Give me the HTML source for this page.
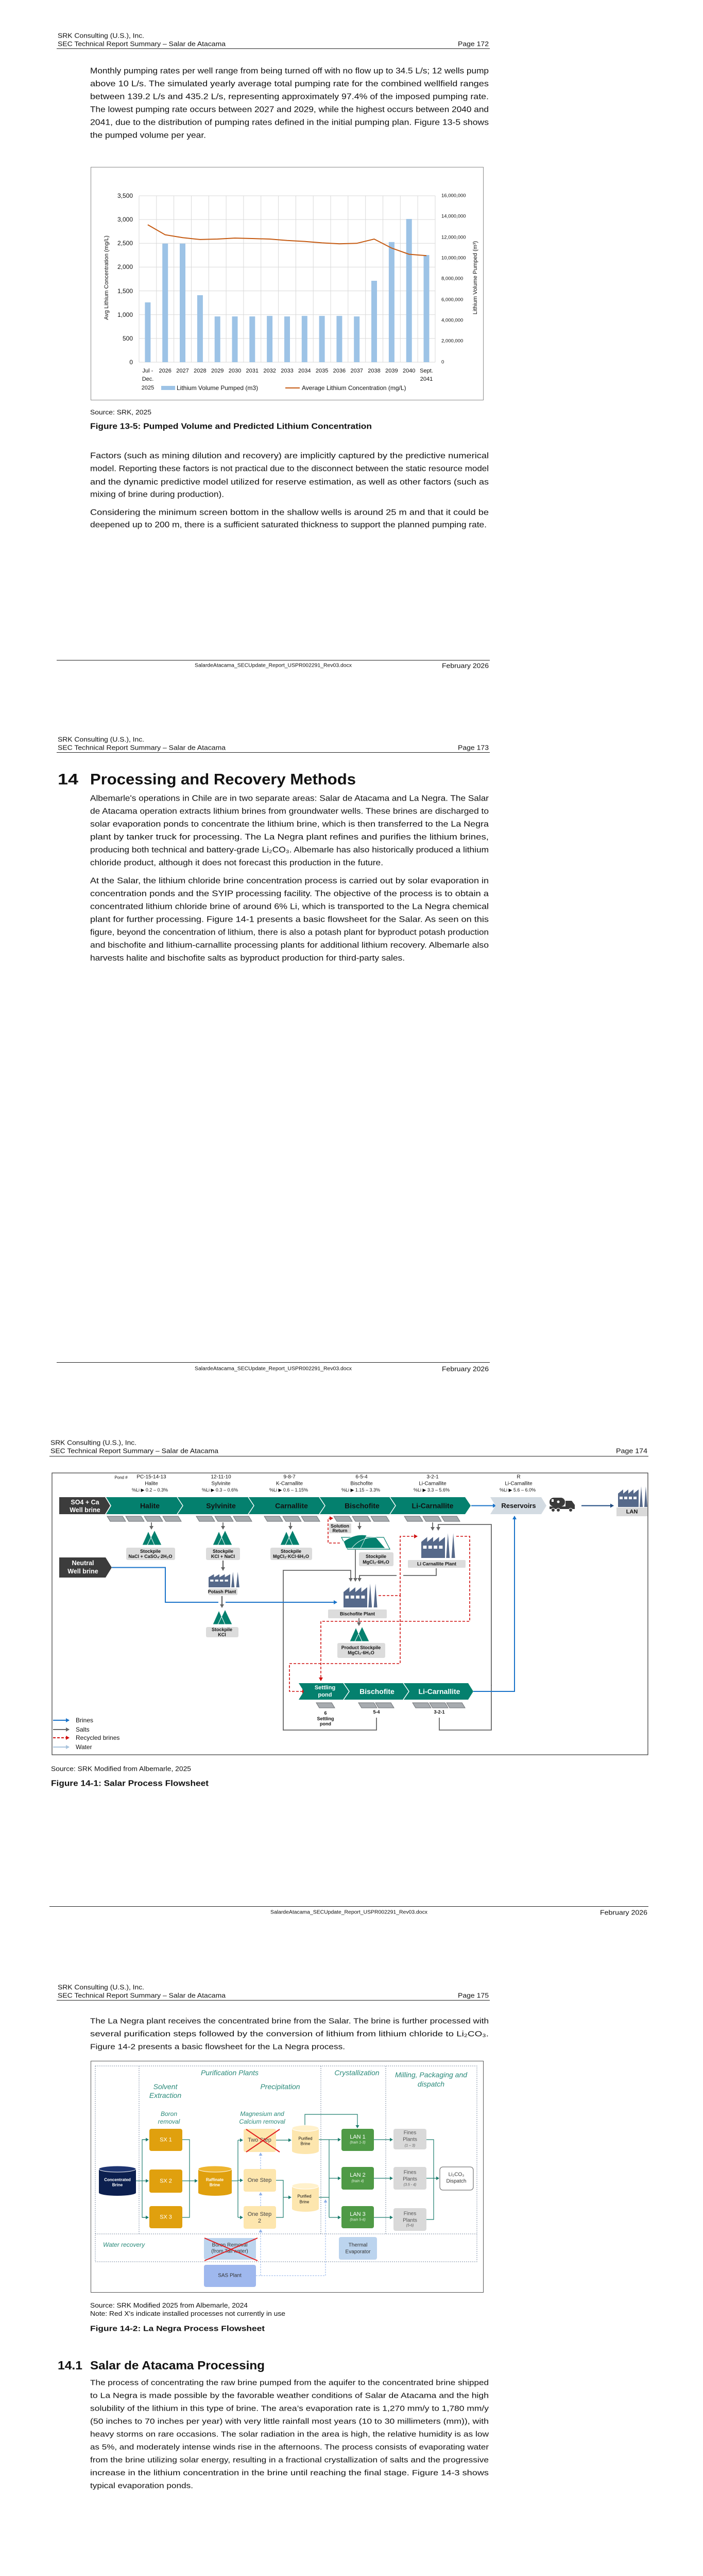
<!DOCTYPE html>
<html><head><meta charset="utf-8">
<style>
html,body{margin:0;padding:0;background:#fff;width:1365px;height:5150px;overflow:hidden;}
svg{display:block;}
text{font-family:"Liberation Sans Narrow","Liberation Sans",sans-serif;fill:#111;dominant-baseline:central;}
.r{font-family:"Liberation Sans",sans-serif;}
.b{font-weight:bold;}
.w{fill:#fff;font-weight:bold;font-family:"Liberation Sans",sans-serif;}
.s{font-family:"Liberation Sans",sans-serif;font-size:9px;fill:#333;font-weight:bold;}
.t{font-family:"Liberation Sans",sans-serif;font-style:italic;fill:#2a8a7a;font-size:14px;}
.ti{font-family:"Liberation Sans",sans-serif;font-style:italic;fill:#2a8a7a;font-size:12px;}
</style></head><body>
<svg width="1365" height="5150" viewBox="0 0 1365 5150" xmlns="http://www.w3.org/2000/svg">
<defs>
<marker id="ab" markerWidth="8" markerHeight="8" refX="6" refY="4" orient="auto" markerUnits="userSpaceOnUse"><path d="M0,0 L7,4 L0,8z" fill="#1a73c9"/></marker>
<marker id="ad" markerWidth="8" markerHeight="8" refX="6" refY="4" orient="auto" markerUnits="userSpaceOnUse"><path d="M0,0 L7,4 L0,8z" fill="#1f4a80"/></marker>
<marker id="ag" markerWidth="8" markerHeight="8" refX="6" refY="4" orient="auto" markerUnits="userSpaceOnUse"><path d="M0,0 L7,4 L0,8z" fill="#666"/></marker>
<marker id="ar" markerWidth="8" markerHeight="8" refX="6" refY="4" orient="auto" markerUnits="userSpaceOnUse"><path d="M0,0 L7,4 L0,8z" fill="#d01010"/></marker>
<marker id="al" markerWidth="8" markerHeight="8" refX="6" refY="4" orient="auto" markerUnits="userSpaceOnUse"><path d="M0,0 L7,4 L0,8z" fill="#a9c4dd"/></marker>
<marker id="at" markerWidth="7" markerHeight="7" refX="5" refY="3.5" orient="auto" markerUnits="userSpaceOnUse"><path d="M0,0 L6,3.5 L0,7z" fill="#1d7d6e"/></marker>
<marker id="au" markerWidth="7" markerHeight="7" refX="5" refY="3.5" orient="auto" markerUnits="userSpaceOnUse"><path d="M0,0 L6,3.5 L0,7z" fill="#8fb0e8"/></marker>
<g id="fac"><path d="M0,40 L0,14 L10,6 L10,14 L20,6 L20,14 L30,6 L30,14 L40,6 L40,40 Z M42,40 L45,0 L48,40 Z M51,40 L54,0 L57,40 Z" fill="#56698a"/><rect x="3" y="20" width="6" height="5" fill="#fff"/><rect x="12" y="20" width="6" height="5" fill="#fff"/><rect x="21" y="20" width="6" height="5" fill="#fff"/><rect x="30" y="20" width="6" height="5" fill="#fff"/></g>
<g id="mt"><path d="M-18,29 L-6,2 L6,29Z M-8,29 L6,0 L20,29Z" fill="#04806e" stroke="#fff" stroke-width="1"/></g>
<g id="pd"><path d="M0,0 L30,0 L36,10 L6,10Z" fill="#a7abaf" stroke="#6d7074" stroke-width="1"/></g>
</defs>

<!-- ================= PAGE 1 ================= -->
<text x="112" y="69" font-size="13" textLength="168" lengthAdjust="spacingAndGlyphs">SRK Consulting (U.S.), Inc.</text>
<text x="112" y="85" font-size="13" textLength="326" lengthAdjust="spacingAndGlyphs">SEC Technical Report Summary – Salar de Atacama</text>
<text x="889" y="85" font-size="13" textLength="60" lengthAdjust="spacingAndGlyphs">Page 172</text>
<line x1="110" y1="94.5" x2="951" y2="94.5" stroke="#222" stroke-width="1"/>
<g font-size="16">
<text x="175" y="138" textLength="774" lengthAdjust="spacingAndGlyphs">Monthly pumping rates per well range from being turned off with no flow up to 34.5 L/s; 12 wells pump</text>
<text x="175" y="163" textLength="774" lengthAdjust="spacingAndGlyphs">above 10 L/s. The simulated yearly average total pumping rate for the combined wellfield ranges</text>
<text x="175" y="188" textLength="774" lengthAdjust="spacingAndGlyphs">between 139.2 L/s and 435.2 L/s, representing approximately 97.4% of the imposed pumping rate.</text>
<text x="175" y="213" textLength="774" lengthAdjust="spacingAndGlyphs">The lowest pumping rate occurs between 2027 and 2029, while the highest occurs between 2040 and</text>
<text x="175" y="238" textLength="774" lengthAdjust="spacingAndGlyphs">2041, due to the distribution of pumping rates defined in the initial pumping plan. Figure 13-5 shows</text>
<text x="175" y="263" textLength="225" lengthAdjust="spacingAndGlyphs">the pumped volume per year.</text>
</g>
<!-- chart -->
<rect x="176.5" y="324.5" width="762" height="452" fill="#fff" stroke="#8a8a8a"/>
<g stroke="#d9d9d9" stroke-width="1">
<line x1="270" y1="380" x2="845" y2="380"/><line x1="270" y1="426.1" x2="845" y2="426.1"/><line x1="270" y1="472.3" x2="845" y2="472.3"/><line x1="270" y1="518.4" x2="845" y2="518.4"/><line x1="270" y1="564.6" x2="845" y2="564.6"/><line x1="270" y1="610.7" x2="845" y2="610.7"/><line x1="270" y1="656.9" x2="845" y2="656.9"/><line x1="270" y1="703" x2="845" y2="703"/>
<line x1="270" y1="380" x2="270" y2="703"/><line x1="303.8" y1="380" x2="303.8" y2="703"/><line x1="337.6" y1="380" x2="337.6" y2="703"/><line x1="371.5" y1="380" x2="371.5" y2="703"/><line x1="405.3" y1="380" x2="405.3" y2="703"/><line x1="439.1" y1="380" x2="439.1" y2="703"/><line x1="472.9" y1="380" x2="472.9" y2="703"/><line x1="506.7" y1="380" x2="506.7" y2="703"/><line x1="540.6" y1="380" x2="540.6" y2="703"/><line x1="574.4" y1="380" x2="574.4" y2="703"/><line x1="608.2" y1="380" x2="608.2" y2="703"/><line x1="642" y1="380" x2="642" y2="703"/><line x1="675.8" y1="380" x2="675.8" y2="703"/><line x1="709.7" y1="380" x2="709.7" y2="703"/><line x1="743.5" y1="380" x2="743.5" y2="703"/><line x1="777.3" y1="380" x2="777.3" y2="703"/><line x1="811.1" y1="380" x2="811.1" y2="703"/><line x1="845" y1="380" x2="845" y2="703"/>
</g>
<g fill="#9dc3e6">
<rect x="281.4" y="586.9" width="11" height="116.1"/><rect x="315.2" y="472.8" width="11" height="230.2"/><rect x="349" y="472.8" width="11" height="230.2"/><rect x="382.9" y="573" width="11" height="130"/><rect x="416.7" y="614.2" width="11" height="88.8"/><rect x="450.5" y="614.2" width="11" height="88.8"/><rect x="484.3" y="614.2" width="11" height="88.8"/><rect x="518.1" y="613.2" width="11" height="89.8"/><rect x="552" y="614.2" width="11" height="88.8"/><rect x="585.8" y="613.2" width="11" height="89.8"/><rect x="619.6" y="613.2" width="11" height="89.8"/><rect x="653.4" y="613.2" width="11" height="89.8"/><rect x="687.2" y="614.2" width="11" height="88.8"/><rect x="721" y="545" width="11" height="158"/><rect x="754.9" y="469.8" width="11" height="233.2"/><rect x="788.7" y="425" width="11" height="278"/><rect x="822.5" y="495" width="11" height="208"/>
</g>
<polyline fill="none" stroke="#c55a11" stroke-width="2" points="286.9,436.3 320.7,455.7 354.5,461.2 388.4,464.9 422.2,464 456,462.1 489.8,463 523.6,464 557.5,466.7 591.3,468.6 625.1,471.4 658.9,473.2 692.7,472.3 726.5,464 760.4,481.5 794.2,493.5 828,496.3"/>
<g font-size="12" text-anchor="end">
<text x="258" y="380">3,500</text><text x="258" y="426">3,000</text><text x="258" y="472">2,500</text><text x="258" y="518">2,000</text><text x="258" y="565">1,500</text><text x="258" y="611">1,000</text><text x="258" y="657">500</text><text x="258" y="703">0</text>
</g>
<g font-size="9.5">
<text x="857" y="380">16,000,000</text><text x="857" y="420">14,000,000</text><text x="857" y="461">12,000,000</text><text x="857" y="501">10,000,000</text><text x="857" y="541">8,000,000</text><text x="857" y="582">6,000,000</text><text x="857" y="622">4,000,000</text><text x="857" y="662">2,000,000</text><text x="857" y="703">0</text>
</g>
<g font-size="11" text-anchor="middle">
<text x="286.9" y="720">Jul -</text><text x="320.7" y="720">2026</text><text x="354.5" y="720">2027</text><text x="388.4" y="720">2028</text><text x="422.2" y="720">2029</text><text x="456" y="720">2030</text><text x="489.8" y="720">2031</text><text x="523.6" y="720">2032</text><text x="557.5" y="720">2033</text><text x="591.3" y="720">2034</text><text x="625.1" y="720">2035</text><text x="658.9" y="720">2036</text><text x="692.7" y="720">2037</text><text x="726.5" y="720">2038</text><text x="760.4" y="720">2039</text><text x="794.2" y="720">2040</text><text x="828" y="720">Sept.</text>
<text x="287" y="736">Dec.</text><text x="828" y="736">2041</text><text x="287" y="753">2025</text>
</g>
<rect x="313" y="749" width="27" height="8" fill="#9dc3e6"/>
<text x="343" y="753" font-size="12">Lithium Volume Pumped (m3)</text>
<line x1="554" y1="753" x2="582" y2="753" stroke="#c55a11" stroke-width="2"/>
<text x="586" y="753" font-size="12">Average Lithium Concentration (mg/L)</text>
<text class="r" font-size="11" text-anchor="middle" transform="translate(207,539) rotate(-90)" fill="#444">Avg Lithium Concentration (mg/L)</text>
<text class="r" font-size="11" text-anchor="middle" transform="translate(923,539) rotate(-90)" fill="#444">Lithium Volume Pumped (m³)</text>

<text x="175" y="800" font-size="13" textLength="119" lengthAdjust="spacingAndGlyphs">Source: SRK, 2025</text>
<text x="175" y="828" font-size="16" class="b" textLength="547" lengthAdjust="spacingAndGlyphs">Figure 13-5: Pumped Volume and Predicted Lithium Concentration</text>
<g font-size="16">
<text x="175" y="885" textLength="774" lengthAdjust="spacingAndGlyphs">Factors (such as mining dilution and recovery) are implicitly captured by the predictive numerical</text>
<text x="175" y="910" textLength="774" lengthAdjust="spacingAndGlyphs">model. Reporting these factors is not practical due to the disconnect between the static resource model</text>
<text x="175" y="936" textLength="774" lengthAdjust="spacingAndGlyphs">and the dynamic predictive model utilized for reserve estimation, as well as other factors (such as</text>
<text x="175" y="960" textLength="260" lengthAdjust="spacingAndGlyphs">mixing of brine during production).</text>
<text x="175" y="995" textLength="774" lengthAdjust="spacingAndGlyphs">Considering the minimum screen bottom in the shallow wells is around 25 m and that it could be</text>
<text x="175" y="1019" textLength="770" lengthAdjust="spacingAndGlyphs">deepened up to 200 m, there is a sufficient saturated thickness to support the planned pumping rate.</text>
</g>
<line x1="110" y1="1281.5" x2="951" y2="1281.5" stroke="#222"/>
<text x="378" y="1292" font-size="10" textLength="305" lengthAdjust="spacingAndGlyphs">SalardeAtacama_SECUpdate_Report_USPR002291_Rev03.docx</text>
<text x="858" y="1292" font-size="13" textLength="91" lengthAdjust="spacingAndGlyphs">February 2026</text>

<!-- ================= PAGE 2 ================= -->
<text x="112" y="1435" font-size="13" textLength="168" lengthAdjust="spacingAndGlyphs">SRK Consulting (U.S.), Inc.</text>
<text x="112" y="1451" font-size="13" textLength="326" lengthAdjust="spacingAndGlyphs">SEC Technical Report Summary – Salar de Atacama</text>
<text x="889" y="1451" font-size="13" textLength="60" lengthAdjust="spacingAndGlyphs">Page 173</text>
<line x1="110" y1="1460.5" x2="951" y2="1460.5" stroke="#222"/>
<text x="112" y="1513" font-size="30" class="b" textLength="40" lengthAdjust="spacingAndGlyphs">14</text>
<text x="175" y="1513" font-size="30" class="b" textLength="516" lengthAdjust="spacingAndGlyphs">Processing and Recovery Methods</text>
<g font-size="16">
<text x="175" y="1550" textLength="774" lengthAdjust="spacingAndGlyphs">Albemarle's operations in Chile are in two separate areas: Salar de Atacama and La Negra. The Salar</text>
<text x="175" y="1575" textLength="774" lengthAdjust="spacingAndGlyphs">de Atacama operation extracts lithium brines from groundwater wells. These brines are discharged to</text>
<text x="175" y="1600" textLength="774" lengthAdjust="spacingAndGlyphs">solar evaporation ponds to concentrate the lithium brine, which is then transferred to the La Negra</text>
<text x="175" y="1625" textLength="774" lengthAdjust="spacingAndGlyphs">plant by tanker truck for processing. The La Negra plant refines and purifies the lithium brines,</text>
<text x="175" y="1650" textLength="774" lengthAdjust="spacingAndGlyphs">producing both technical and battery-grade Li₂CO₃. Albemarle has also historically produced a lithium</text>
<text x="175" y="1675" textLength="569" lengthAdjust="spacingAndGlyphs">chloride product, although it does not forecast this production in the future.</text>
<text x="175" y="1710" textLength="774" lengthAdjust="spacingAndGlyphs">At the Salar, the lithium chloride brine concentration process is carried out by solar evaporation in</text>
<text x="175" y="1735" textLength="774" lengthAdjust="spacingAndGlyphs">concentration ponds and the SYIP processing facility. The objective of the process is to obtain a</text>
<text x="175" y="1760" textLength="774" lengthAdjust="spacingAndGlyphs">concentrated lithium chloride brine of around 6% Li, which is transported to the La Negra chemical</text>
<text x="175" y="1785" textLength="774" lengthAdjust="spacingAndGlyphs">plant for further processing. Figure 14-1 presents a basic flowsheet for the Salar. As seen on this</text>
<text x="175" y="1810" textLength="774" lengthAdjust="spacingAndGlyphs">figure, beyond the concentration of lithium, there is also a potash plant for byproduct potash production</text>
<text x="175" y="1835" textLength="774" lengthAdjust="spacingAndGlyphs">and bischofite and lithium-carnallite processing plants for additional lithium recovery. Albemarle also</text>
<text x="175" y="1860" textLength="611" lengthAdjust="spacingAndGlyphs">harvests halite and bischofite salts as byproduct production for third-party sales.</text>
</g>
<line x1="110" y1="2644.5" x2="951" y2="2644.5" stroke="#222"/>
<text x="378" y="2657" font-size="10" textLength="305" lengthAdjust="spacingAndGlyphs">SalardeAtacama_SECUpdate_Report_USPR002291_Rev03.docx</text>
<text x="858" y="2657" font-size="13" textLength="91" lengthAdjust="spacingAndGlyphs">February 2026</text>

<!-- ================= PAGE 3 ================= -->
<text x="98" y="2800" font-size="13" textLength="167" lengthAdjust="spacingAndGlyphs">SRK Consulting (U.S.), Inc.</text>
<text x="98" y="2816" font-size="13" textLength="326" lengthAdjust="spacingAndGlyphs">SEC Technical Report Summary – Salar de Atacama</text>
<text x="1196" y="2816" font-size="13" textLength="61" lengthAdjust="spacingAndGlyphs">Page 174</text>
<line x1="96" y1="2826.5" x2="1259" y2="2826.5" stroke="#222"/>
<rect x="101" y="2859" width="1157" height="547" fill="#fff" stroke="#333" stroke-width="1.2"/>
<g class="r" font-size="10" text-anchor="middle" fill="#333">
<text x="235" y="2868" font-size="8" fill="#333">Pond #</text>
<text x="294" y="2867">PC-15-14-13</text><text x="294" y="2880">Halite</text>
<text x="429" y="2867">12-11-10</text><text x="429" y="2880">Sylvinite</text>
<text x="562" y="2867">9-8-7</text><text x="562" y="2880">K-Carnallite</text>
<text x="702" y="2867">6-5-4</text><text x="702" y="2880">Bischofite</text>
<text x="840" y="2867">3-2-1</text><text x="840" y="2880">Li-Carnallite</text>
<text x="1007" y="2867">R</text><text x="1007" y="2880">Li-Carnallite</text>
</g>
<g class="r" font-size="9" fill="#333">
<text x="256" y="2892">%Li ▶ 0.2 – 0.3%</text>
<text x="392" y="2892">%Li ▶ 0.3 – 0.6%</text>
<text x="523" y="2892">%Li ▶ 0.6 – 1.15%</text>
<text x="663" y="2892">%Li ▶ 1.15 – 3.3%</text>
<text x="803" y="2892">%Li ▶ 3.3 – 5.6%</text>
<text x="970" y="2892">%Li ▶ 5.6 – 6.0%</text>
</g>
<polygon points="115,2906 204,2906 214,2922.5 204,2939 115,2939" fill="#3c3c3c"/>
<text class="w" x="165" y="2916" font-size="12.5" text-anchor="middle">SO4 + Ca</text>
<text class="w" x="165" y="2931" font-size="12.5" text-anchor="middle">Well brine</text>
<polygon points="206,2906 903,2906 914,2922.5 903,2939 206,2939 216,2922.5" fill="#04806e"/>
<g stroke="#fff" stroke-width="1.5" fill="none">
<polyline points="344,2906 355,2922.5 344,2939"/><polyline points="482,2906 493,2922.5 482,2939"/><polyline points="620,2906 631,2922.5 620,2939"/><polyline points="757,2906 768,2922.5 757,2939"/>
</g>
<g class="w" font-size="14" text-anchor="middle">
<text x="291" y="2922.5">Halite</text><text x="429" y="2922.5">Sylvinite</text><text x="566" y="2922.5">Carnallite</text><text x="703" y="2922.5">Bischofite</text><text x="840" y="2922.5">Li-Carnallite</text>
</g>
<line x1="915" y1="2922.5" x2="963" y2="2922.5" stroke="#1a73c9" stroke-width="2" marker-end="url(#ab)"/>
<polygon points="952,2906 1051,2906 1061,2922.5 1051,2939 952,2939 962,2922.5" fill="#d3dbe2"/>
<text class="r b" x="1007" y="2922.5" font-size="13" text-anchor="middle" fill="#333">Reservoirs</text>
<g fill="#3a3a3a">
<rect x="1067" y="2907" width="30" height="17" rx="8"/><path d="M1098,2913 L1110,2913 L1116,2921 L1116,2929 L1098,2929Z"/><rect x="1067" y="2924" width="49" height="5"/>
<circle cx="1074" cy="2931" r="3.5" stroke="#fff"/><circle cx="1084" cy="2931" r="3.5" stroke="#fff"/><circle cx="1108" cy="2931" r="3.5" stroke="#fff"/>
</g>
<rect x="1071" y="2910" width="4" height="5" fill="#fff"/><circle cx="1084" cy="2915" r="2.5" fill="#fff"/>
<line x1="1129" y1="2922.5" x2="1191" y2="2922.5" stroke="#1f4a80" stroke-width="2" marker-end="url(#ad)"/>
<use href="#fac" transform="translate(1200,2885)"/>
<rect x="1197" y="2926" width="60" height="17" fill="#d9d9d9"/>
<text class="r b" x="1227" y="2934.5" font-size="11" text-anchor="middle" fill="#1f3f70">LAN</text>
<use href="#pd" transform="translate(208,2943)"/><use href="#pd" transform="translate(244,2943)"/><use href="#pd" transform="translate(280,2943)"/><use href="#pd" transform="translate(316,2943)"/>
<use href="#pd" transform="translate(381,2943)"/><use href="#pd" transform="translate(417,2943)"/><use href="#pd" transform="translate(453,2943)"/>
<use href="#pd" transform="translate(513,2943)"/><use href="#pd" transform="translate(549,2943)"/><use href="#pd" transform="translate(585,2943)"/>
<use href="#pd" transform="translate(648,2943)"/><use href="#pd" transform="translate(684,2943)"/><use href="#pd" transform="translate(720,2943)"/>
<use href="#pd" transform="translate(785,2943)"/><use href="#pd" transform="translate(821,2943)"/><use href="#pd" transform="translate(857,2943)"/>
<g stroke="#666" stroke-width="1.8" fill="none">
<line x1="294" y1="2955" x2="294" y2="2968" marker-end="url(#ag)"/>
<line x1="433" y1="2955" x2="433" y2="2968" marker-end="url(#ag)"/>
<line x1="564" y1="2955" x2="564" y2="2968" marker-end="url(#ag)"/>
<line x1="698" y1="2955" x2="698" y2="2968" marker-end="url(#ag)"/>
<line x1="840" y1="2955" x2="840" y2="2970" marker-end="url(#ag)"/>
<polyline points="954,3272 954,2959 851,2959 851,2970" marker-end="url(#ag)"/>
<line x1="433" y1="3029" x2="433" y2="3048" stroke="#444" marker-end="url(#ag)"/>
<line x1="431" y1="3098" x2="431" y2="3120" stroke="#444" marker-end="url(#ag)"/>
<polyline points="550,3359 550,3048 681,3048 681,3069" marker-end="url(#ag)"/>
<line x1="690" y1="3008" x2="690" y2="3069" marker-end="url(#ag)"/>
<polyline points="770,3058 698,3058 698,3069" marker-end="url(#ag)"/>
<polyline points="847,3044 847,3058 783,3058"/>
<line x1="697" y1="3141" x2="697" y2="3155" marker-end="url(#ag)"/>
<polyline points="731,3334 731,3358 550,3358"/>
<polyline points="853,3334 853,3358 954,3358 954,3270"/>
</g>
<use href="#mt" transform="translate(294,2970)"/><use href="#mt" transform="translate(431,2970)"/><use href="#mt" transform="translate(562,2970)"/>
<use href="#mt" transform="translate(431,3124)"/><use href="#mt" transform="translate(697,3157)"/>
<g fill="#dcdcdc">
<rect x="245" y="3004" width="95" height="24" rx="3"/><rect x="400" y="3004" width="66" height="24" rx="3"/><rect x="525" y="3004" width="81" height="24" rx="3"/>
<rect x="400" y="3158" width="63" height="20" rx="3"/><rect x="405" y="3083" width="56" height="13" rx="2"/>
<rect x="639" y="2957" width="43" height="19" rx="2"/><rect x="697" y="3013" width="67" height="27" rx="3"/>
<rect x="637" y="3124" width="114" height="17" rx="2"/><rect x="655" y="3189" width="93" height="29" rx="3"/>
<rect x="792" y="3028" width="112" height="15" rx="2"/>
</g>
<g class="s" text-anchor="middle">
<text x="292" y="3011">Stockpile</text><text x="292" y="3021">NaCl + CaSO₄·2H₂O</text>
<text x="433" y="3011">Stockpile</text><text x="433" y="3021">KCl + NaCl</text>
<text x="565" y="3011">Stockpile</text><text x="565" y="3021">MgCl₂·KCl·6H₂O</text>
<text x="431" y="3089.5">Potash Plant</text>
<text x="431" y="3163">Stockpile</text><text x="431" y="3173">KCl</text>
<text x="660" y="2962">Solution</text><text x="660" y="2971">Return</text>
<text x="730" y="3021">Stockpile</text><text x="730" y="3032">MgCl₂·6H₂O</text>
<text x="694" y="3132.5">Bischofite Plant</text>
<text x="701" y="3198">Product Stockpile</text><text x="701" y="3208">MgCl₂·6H₂O</text>
<text x="848" y="3035.5">Li Carnallite Plant</text>
</g>
<path d="M663,2984 L745,2984 L757,3007 L675,3007Z" fill="none" stroke="#04806e" stroke-width="1.2"/>
<path d="M667,2992 Q690,2976 712,2980 L700,3005 L672,3005Z M683,3005 Q700,2983 730,2984 L748,3005Z" fill="#04806e" stroke="#fff" stroke-width="0.8"/>
<use href="#fac" transform="translate(405,3051) scale(1.05,0.75)"/>
<use href="#fac" transform="translate(667,3074) scale(1.15,1.15)"/>
<use href="#fac" transform="translate(818,2976) scale(1.15,1.2)"/>
<polygon points="115,3023 205,3023 217,3042.5 205,3062 115,3062" fill="#3c3c3c"/>
<text class="w" x="161" y="3034" font-size="12.5" text-anchor="middle">Neutral</text>
<text class="w" x="161" y="3050" font-size="12.5" text-anchor="middle">Well brine</text>
<g stroke="#1a73c9" stroke-width="2" fill="none">
<polyline points="217,3042.5 321,3042.5 321,3110 424,3110"/>
<line x1="438" y1="3110" x2="654" y2="3110" marker-end="url(#ab)"/>
<polyline points="919,3283 999,3283 999,2943" marker-end="url(#ab)"/>
</g>
<g stroke="#d01010" stroke-width="1.6" fill="none" stroke-dasharray="5,3">
<polyline points="660,2995 637,2995 637,2947 646,2947" marker-end="url(#ar)"/>
<polyline points="735,3097 777,3097 777,3229 562,3229 562,3283 593,3283" marker-end="url(#ar)"/>
<polyline points="777,3097 777,2982 810,2982" marker-end="url(#ar)"/>
<polyline points="886,2982 912,2982 912,3147 623,3147 623,3262" marker-end="url(#ar)"/>
</g>
<polygon points="580,3267 909,3267 919,3283 909,3299 580,3299 590,3283" fill="#04806e"/>
<g stroke="#fff" stroke-width="1.5" fill="none"><polyline points="667,3267 678,3283 667,3299"/><polyline points="783,3267 794,3283 783,3299"/></g>
<text class="w" x="631" y="3276" font-size="11" text-anchor="middle">Settling</text>
<text class="w" x="631" y="3290" font-size="11" text-anchor="middle">pond</text>
<text class="w" x="732" y="3283" font-size="14" text-anchor="middle">Bischofite</text>
<text class="w" x="853" y="3283" font-size="14" text-anchor="middle">Li-Carnallite</text>
<g transform="translate(0,362)">
<use href="#pd" transform="translate(614,2943)"/>
<use href="#pd" transform="translate(696,2943)"/><use href="#pd" transform="translate(729,2943)"/>
<use href="#pd" transform="translate(801,2943)"/><use href="#pd" transform="translate(834,2943)"/><use href="#pd" transform="translate(867,2943)"/>
</g>
<g class="s" text-anchor="middle" font-weight="normal">
<text x="632" y="3325">6</text><text x="632" y="3336">Settling</text><text x="632" y="3346">pond</text>
<text x="731" y="3323">5-4</text><text x="853" y="3323">3-2-1</text>
</g>
<line x1="103" y1="3339" x2="134" y2="3339" stroke="#1a73c9" stroke-width="2" marker-end="url(#ab)"/>
<line x1="103" y1="3357" x2="134" y2="3357" stroke="#666" stroke-width="2" marker-end="url(#ag)"/>
<line x1="103" y1="3373" x2="134" y2="3373" stroke="#d01010" stroke-width="2" stroke-dasharray="5,3" marker-end="url(#ar)"/>
<line x1="103" y1="3391" x2="134" y2="3391" stroke="#a9c4dd" stroke-width="2" marker-end="url(#al)"/>
<g class="r" font-size="12" fill="#333"><text x="147" y="3339">Brines</text><text x="147" y="3357">Salts</text><text x="147" y="3373">Recycled brines</text><text x="147" y="3391">Water</text></g>
<text x="99" y="3433" font-size="13" textLength="272" lengthAdjust="spacingAndGlyphs">Source: SRK Modified from Albemarle, 2025</text>
<text x="99" y="3462" font-size="16" class="b" textLength="306" lengthAdjust="spacingAndGlyphs">Figure 14-1: Salar Process Flowsheet</text>
<line x1="96" y1="3700.5" x2="1259" y2="3700.5" stroke="#222"/>
<text x="525" y="3712" font-size="10" textLength="305" lengthAdjust="spacingAndGlyphs">SalardeAtacama_SECUpdate_Report_USPR002291_Rev03.docx</text>
<text x="1165" y="3712" font-size="13" textLength="92" lengthAdjust="spacingAndGlyphs">February 2026</text>

<!-- ================= PAGE 4 ================= -->
<text x="112" y="3857" font-size="13" textLength="168" lengthAdjust="spacingAndGlyphs">SRK Consulting (U.S.), Inc.</text>
<text x="112" y="3873" font-size="13" textLength="326" lengthAdjust="spacingAndGlyphs">SEC Technical Report Summary – Salar de Atacama</text>
<text x="889" y="3873" font-size="13" textLength="60" lengthAdjust="spacingAndGlyphs">Page 175</text>
<line x1="110" y1="3882.5" x2="951" y2="3882.5" stroke="#222"/>
<g class="r" font-size="15">
<text class="r" x="175" y="3923" textLength="774" lengthAdjust="spacingAndGlyphs">The La Negra plant receives the concentrated brine from the Salar. The brine is further processed with</text>
<text class="r" x="175" y="3948" textLength="774" lengthAdjust="spacingAndGlyphs">several purification steps followed by the conversion of lithium from lithium chloride to Li₂CO₃.</text>
<text class="r" x="175" y="3973" textLength="495" lengthAdjust="spacingAndGlyphs">Figure 14-2 presents a basic flowsheet for the La Negra process.</text>
</g>
<rect x="176.5" y="4000.5" width="762" height="449" fill="#fff" stroke="#555"/>
<g stroke="#7a8aa0" stroke-width="1" stroke-dasharray="2,2" fill="none">
<rect x="185" y="4010" width="741" height="380"/>
<line x1="270" y1="4010" x2="270" y2="4336"/><line x1="623" y1="4010" x2="623" y2="4336"/><line x1="749" y1="4010" x2="749" y2="4336"/>
<line x1="185" y1="4336" x2="926" y2="4336"/>
</g>
<text class="t" x="446" y="4023" text-anchor="middle">Purification Plants</text>
<text class="t" x="693" y="4023" text-anchor="middle">Crystallization</text>
<text class="t" x="837" y="4027" text-anchor="middle">Milling, Packaging and</text>
<text class="t" x="837" y="4045" text-anchor="middle">dispatch</text>
<text class="t" x="321" y="4050" text-anchor="middle">Solvent</text>
<text class="t" x="321" y="4067" text-anchor="middle">Extraction</text>
<text class="t" x="544" y="4050" text-anchor="middle">Precipitation</text>
<text class="ti" x="328" y="4103" text-anchor="middle">Boron</text>
<text class="ti" x="328" y="4118" text-anchor="middle">removal</text>
<text class="ti" x="509" y="4103" text-anchor="middle">Magnesium and</text>
<text class="ti" x="509" y="4118" text-anchor="middle">Calcium removal</text>
<text class="ti" x="200" y="4357">Water recovery</text>
<g stroke="#1d7d6e" stroke-width="1.2" fill="none">
<line x1="264" y1="4233" x2="276" y2="4233"/>
<polyline points="288,4153 276,4153 276,4304 288,4304"/>
<line x1="276" y1="4233" x2="288" y2="4233" marker-end="url(#at)"/>
<line x1="276" y1="4153" x2="288" y2="4153" marker-end="url(#at)"/>
<line x1="276" y1="4304" x2="288" y2="4304" marker-end="url(#at)"/>
<polyline points="354,4153 368,4153 368,4304 354,4304"/>
<line x1="354" y1="4233" x2="383" y2="4233" marker-end="url(#at)"/>
<line x1="450" y1="4233" x2="462" y2="4233"/>
<line x1="462" y1="4154" x2="462" y2="4304"/>
<line x1="462" y1="4154" x2="471" y2="4154" marker-end="url(#at)"/>
<line x1="462" y1="4232" x2="471" y2="4232" marker-end="url(#at)"/>
<line x1="462" y1="4304" x2="471" y2="4304" marker-end="url(#at)"/>
<line x1="536" y1="4154" x2="565" y2="4154" marker-end="url(#at)"/>
<polyline points="536,4232 550,4232 550,4304 536,4304"/>
<line x1="550" y1="4265" x2="565" y2="4265" marker-end="url(#at)"/>
<line x1="619" y1="4153" x2="639" y2="4153"/><line x1="619" y1="4265" x2="639" y2="4265"/>
<line x1="639" y1="4153" x2="639" y2="4304"/>
<line x1="639" y1="4153" x2="661" y2="4153" marker-end="url(#at)"/>
<line x1="639" y1="4228" x2="661" y2="4228" marker-end="url(#at)"/>
<line x1="639" y1="4304" x2="661" y2="4304" marker-end="url(#at)"/>
<line x1="726" y1="4153" x2="762" y2="4153" marker-end="url(#at)"/>
<line x1="726" y1="4228" x2="762" y2="4228" marker-end="url(#at)"/>
<line x1="726" y1="4304" x2="762" y2="4304" marker-end="url(#at)"/>
<polyline points="828,4153 842,4153 842,4308 828,4308"/>
<line x1="828" y1="4228" x2="852" y2="4228" marker-end="url(#at)"/>
<polyline points="592,4125 592,4104 694,4104 694,4130" marker-end="url(#at)"/>
</g>
<g stroke="#8fb0e8" stroke-width="1" fill="none" stroke-dasharray="3,2">
<polyline points="497,4417 632,4417 632,4270" marker-end="url(#au)"/>
<line x1="506" y1="4417" x2="506" y2="4328" marker-end="url(#au)"/>
<line x1="506" y1="4282" x2="506" y2="4256" marker-end="url(#au)"/>
<line x1="506" y1="4210" x2="506" y2="4179" marker-end="url(#au)"/>
</g>
<g>
<path d="M192,4210 L192,4256 A36,6 0 0 0 264,4256 L264,4210Z" fill="#0c1f4f"/><ellipse cx="228" cy="4210" rx="36" ry="6" fill="#1e3470" stroke="#fff" stroke-width="1"/>
<path d="M385,4210 L385,4256 A32.5,6 0 0 0 450,4256 L450,4210Z" fill="#e0a00e"/><ellipse cx="417.5" cy="4210" rx="32.5" ry="6" fill="#eeb52f" stroke="#fff" stroke-width="1"/>
<path d="M567,4131 L567,4175 A26,6 0 0 0 619,4175 L619,4131Z" fill="#fde6ae"/><ellipse cx="593" cy="4131" rx="26" ry="6" fill="#fff1cc" stroke="#fff"/>
<path d="M567,4243 L567,4287 A26,6 0 0 0 619,4287 L619,4243Z" fill="#fde6ae"/><ellipse cx="593" cy="4243" rx="26" ry="6" fill="#fff1cc" stroke="#fff"/>
</g>
<text class="r" x="228" y="4231" font-size="8" fill="#fff" style="fill:#fff" text-anchor="middle" font-weight="bold">Concentrated</text>
<text class="r" x="228" y="4241" font-size="8" style="fill:#fff" text-anchor="middle" font-weight="bold">Brine</text>
<text class="r" x="417" y="4231" font-size="8" style="fill:#fff" text-anchor="middle" font-weight="bold">Raffinate</text>
<text class="r" x="417" y="4241" font-size="8" style="fill:#fff" text-anchor="middle" font-weight="bold">Brine</text>
<text class="r" x="593" y="4151" font-size="8" fill="#555" text-anchor="middle">Purified</text>
<text class="r" x="593" y="4161" font-size="8" fill="#555" text-anchor="middle">Brine</text>
<text class="r" x="591" y="4263" font-size="8" fill="#555" text-anchor="middle">Purified</text>
<text class="r" x="591" y="4274" font-size="8" fill="#555" text-anchor="middle">Brine</text>
<g>
<rect x="290" y="4132" width="64" height="43" rx="4" fill="#e0a00e"/>
<rect x="290" y="4211" width="64" height="45" rx="4" fill="#e0a00e"/>
<rect x="290" y="4282" width="64" height="43" rx="4" fill="#e0a00e"/>
<rect x="473" y="4132" width="63" height="45" rx="4" fill="#fde6ae"/>
<rect x="473" y="4210" width="63" height="44" rx="4" fill="#fde6ae"/>
<rect x="473" y="4282" width="63" height="44" rx="4" fill="#fde6ae"/>
<rect x="663" y="4132" width="63" height="43" rx="4" fill="#4f9a46"/>
<rect x="663" y="4206" width="63" height="44" rx="4" fill="#4f9a46"/>
<rect x="663" y="4282" width="63" height="43" rx="4" fill="#4f9a46"/>
<rect x="764" y="4132" width="64" height="40" rx="4" fill="#d9d9d9"/>
<rect x="764" y="4206" width="64" height="44" rx="4" fill="#d9d9d9"/>
<rect x="764" y="4286" width="64" height="44" rx="4" fill="#d9d9d9"/>
<rect x="854" y="4206" width="65" height="45" rx="6" fill="#fff" stroke="#555"/>
<rect x="396" y="4344" width="101" height="42" rx="4" fill="#bcd4ee"/>
<rect x="658" y="4342" width="74" height="44" rx="4" fill="#bcd4ee"/>
<rect x="396" y="4396" width="101" height="43" rx="4" fill="#9fb8ee"/>
</g>
<g class="r" font-size="11" text-anchor="middle">
<text x="322" y="4153.5" style="fill:#fff">SX 1</text><text x="322" y="4233.5" style="fill:#fff">SX 2</text><text x="322" y="4303.5" style="fill:#fff">SX 3</text>
<text x="504" y="4154" style="fill:#444">Two Step</text><text x="504" y="4232" style="fill:#444">One Step</text>
<text x="504" y="4298" style="fill:#444">One Step</text><text x="504" y="4311" style="fill:#444">2</text>
<text x="694.5" y="4148" style="fill:#fff">LAN 1</text><text x="694.5" y="4222" style="fill:#fff">LAN 2</text><text x="694.5" y="4298" style="fill:#fff">LAN 3</text>
<text x="796" y="4140" style="fill:#555" font-size="10">Fines</text><text x="796" y="4153" style="fill:#555" font-size="10">Plants</text>
<text x="796" y="4217" style="fill:#555" font-size="10">Fines</text><text x="796" y="4230" style="fill:#555" font-size="10">Plants</text>
<text x="796" y="4297" style="fill:#555" font-size="10">Fines</text><text x="796" y="4310" style="fill:#555" font-size="10">Plants</text>
<text x="886" y="4221" style="fill:#333" font-size="10">Li₂CO₃</text><text x="886" y="4234" style="fill:#333" font-size="10">Dispatch</text>
<text x="446" y="4358" style="fill:#333" font-size="10">Boron Removal</text><text x="446" y="4370" style="fill:#333" font-size="10">(from Tail water)</text>
<text x="695" y="4358" style="fill:#333" font-size="10">Thermal</text><text x="695" y="4371" style="fill:#333" font-size="10">Evaporator</text>
<text x="446" y="4417" style="fill:#333" font-size="10">SAS Plant</text>
</g>
<g class="r" font-size="7" font-style="italic" text-anchor="middle">
<text x="694.5" y="4159" style="fill:#e8f4e4">(train 1-3)</text><text x="694.5" y="4234" style="fill:#e8f4e4">(train 4)</text><text x="694.5" y="4309" style="fill:#e8f4e4">(train 5-6)</text>
<text x="796" y="4165" style="fill:#555">(1 – 3)</text><text x="796" y="4241" style="fill:#555">(3.5 - 4)</text><text x="796" y="4320" style="fill:#555">(5-6)</text>
</g>
<g stroke="#e02020" stroke-width="2">
<line x1="478" y1="4133" x2="543" y2="4177"/><line x1="543" y1="4133" x2="478" y2="4177"/>
<line x1="397" y1="4344" x2="500" y2="4388"/><line x1="500" y1="4344" x2="397" y2="4388"/>
</g>
<text class="r" x="175" y="4475" font-size="12.5" textLength="306" lengthAdjust="spacingAndGlyphs">Source: SRK Modified 2025 from Albemarle, 2024</text>
<text class="r" x="175" y="4491" font-size="12.5" textLength="379" lengthAdjust="spacingAndGlyphs">Note: Red X's indicate installed processes not currently in use</text>
<text class="r b" x="175" y="4520" font-size="15" textLength="339" lengthAdjust="spacingAndGlyphs">Figure 14-2: La Negra Process Flowsheet</text>
<text class="r b" x="112" y="4591" font-size="23" textLength="48" lengthAdjust="spacingAndGlyphs">14.1</text>
<text class="r b" x="175" y="4591" font-size="23" textLength="339" lengthAdjust="spacingAndGlyphs">Salar de Atacama Processing</text>
<g font-size="15">
<text class="r" x="175" y="4625" textLength="774" lengthAdjust="spacingAndGlyphs">The process of concentrating the raw brine pumped from the aquifer to the concentrated brine shipped</text>
<text class="r" x="175" y="4650" textLength="774" lengthAdjust="spacingAndGlyphs">to La Negra is made possible by the favorable weather conditions of Salar de Atacama and the high</text>
<text class="r" x="175" y="4675" textLength="774" lengthAdjust="spacingAndGlyphs">solubility of the lithium in this type of brine. The area’s evaporation rate is 1,270 mm/y to 1,780 mm/y</text>
<text class="r" x="175" y="4700" textLength="774" lengthAdjust="spacingAndGlyphs">(50 inches to 70 inches per year) with very little rainfall most years (10 to 30 millimeters (mm)), with</text>
<text class="r" x="175" y="4725" textLength="774" lengthAdjust="spacingAndGlyphs">heavy storms on rare occasions. The solar radiation in the area is high, the relative humidity is as low</text>
<text class="r" x="175" y="4750" textLength="774" lengthAdjust="spacingAndGlyphs">as 5%, and moderately intense winds rise in the afternoons. The process consists of evaporating water</text>
<text class="r" x="175" y="4775" textLength="774" lengthAdjust="spacingAndGlyphs">from the brine utilizing solar energy, resulting in a fractional crystallization of salts and the progressive</text>
<text class="r" x="175" y="4800" textLength="774" lengthAdjust="spacingAndGlyphs">increase in the lithium concentration in the brine until reaching the final stage. Figure 14-3 shows</text>
<text class="r" x="175" y="4825" textLength="200" lengthAdjust="spacingAndGlyphs">typical evaporation ponds.</text>
</g>
<line x1="110" y1="5070.5" x2="951" y2="5070.5" stroke="#222"/>
<text class="r" x="378" y="5081" font-size="10" textLength="305" lengthAdjust="spacingAndGlyphs">SalardeAtacama_SECUpdate_Report_USPR002291_Rev03.docx</text>
<text class="r" x="858" y="5081" font-size="13" textLength="91" lengthAdjust="spacingAndGlyphs">February 2026</text>
</svg>
</body></html>
